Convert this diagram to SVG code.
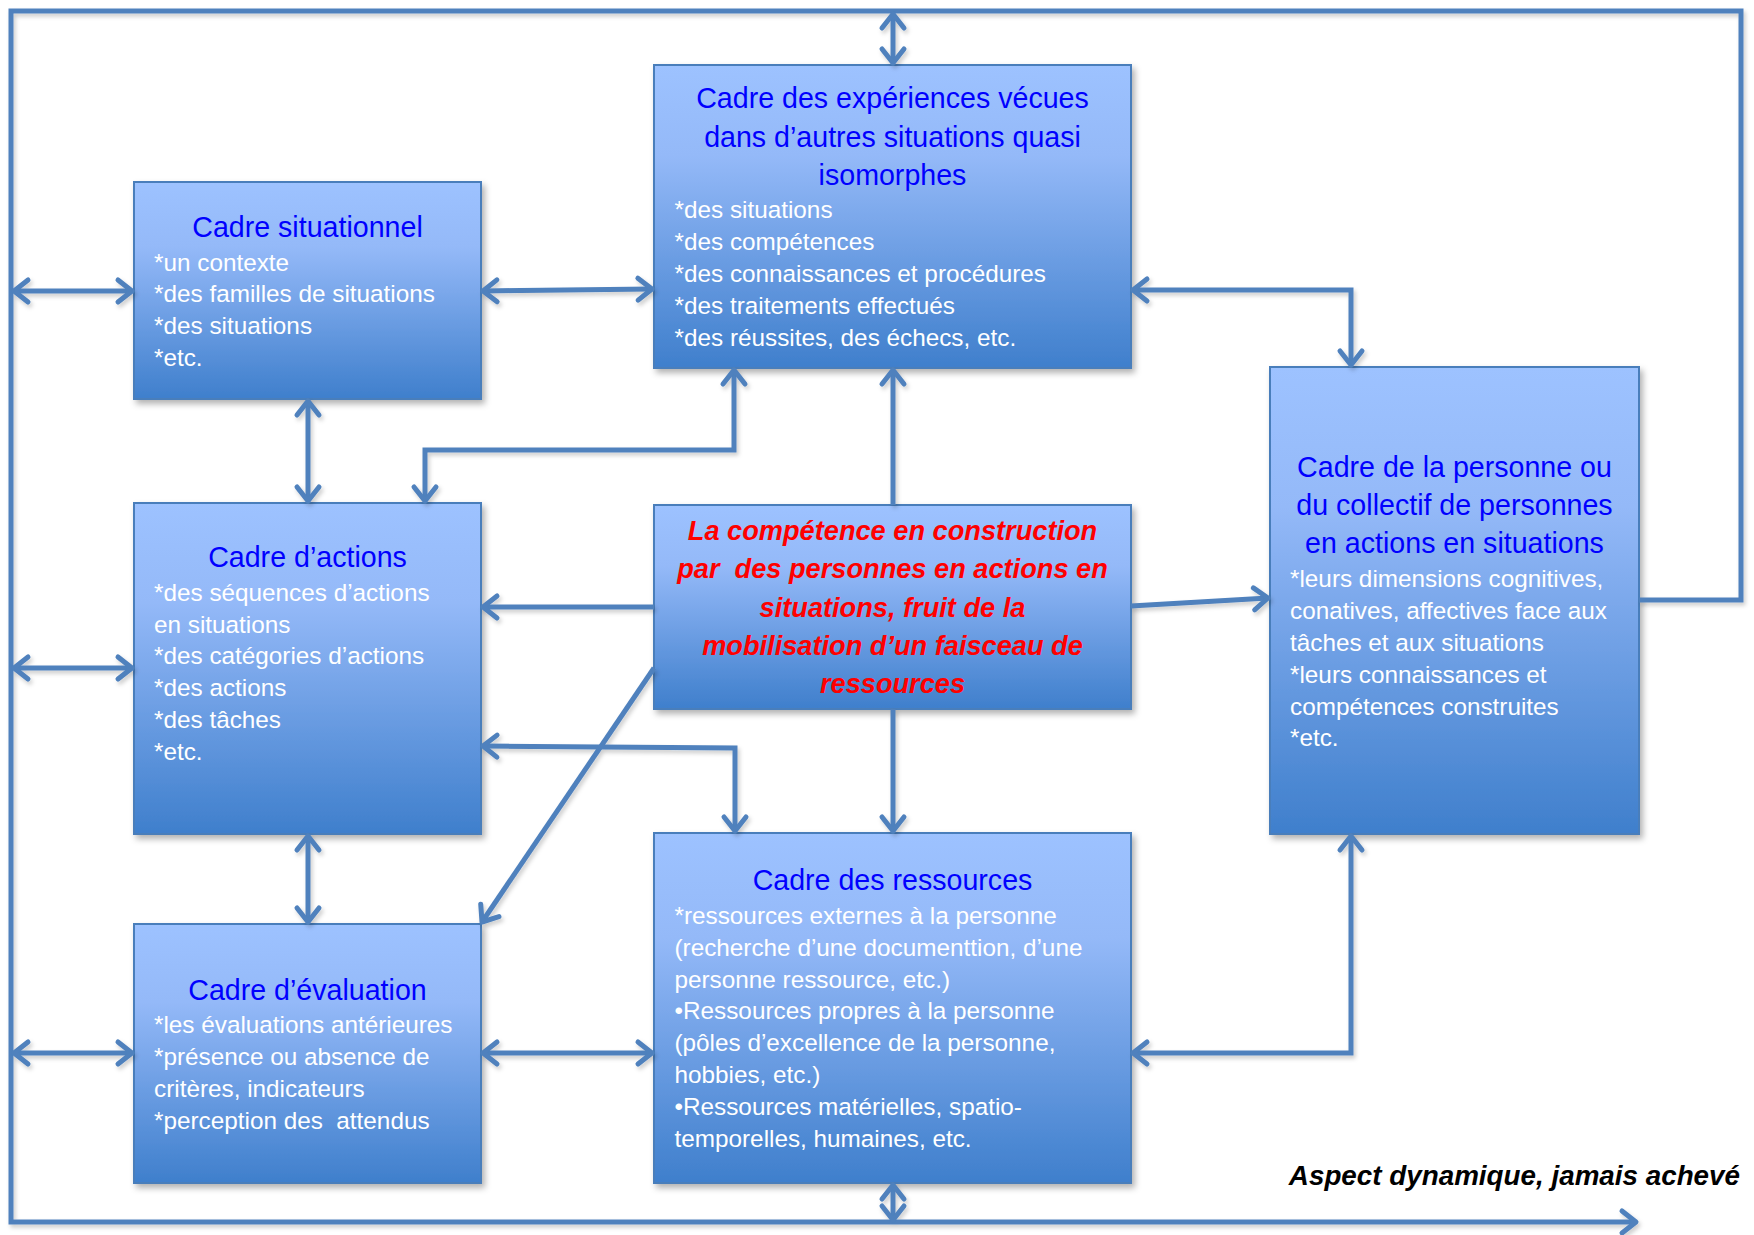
<svg xmlns="http://www.w3.org/2000/svg" width="1754" height="1235" viewBox="0 0 1754 1235">
<defs>
<linearGradient id="bg" x1="0" y1="0" x2="0" y2="1">
<stop offset="0" stop-color="#9DC2FF"/>
<stop offset="0.3" stop-color="#94B9F8"/>
<stop offset="1" stop-color="#3F7FCC"/>
</linearGradient>
<filter id="sh" x="-10%" y="-10%" width="125%" height="125%">
<feDropShadow dx="3" dy="4" stdDeviation="3" flood-color="#000" flood-opacity="0.3"/>
</filter>
<filter id="lsh" x="-5%" y="-5%" width="110%" height="110%">
<feDropShadow dx="2" dy="3" stdDeviation="2" flood-color="#000" flood-opacity="0.2"/>
</filter>
<marker id="ah" viewBox="-20 -15 25 30" refX="0" refY="0" markerWidth="25" markerHeight="30" markerUnits="userSpaceOnUse" orient="auto-start-reverse" overflow="visible">
<path d="M-14 -11 L0 0 L-14 11" fill="none" stroke="#4F81BD" stroke-width="5" stroke-linecap="round" stroke-linejoin="round"/>
</marker>
</defs>
<style>
.box{fill:url(#bg);stroke:#4A7EBB;stroke-width:2;filter:url(#sh)}
.t{font-family:"Liberation Sans",Arial,sans-serif;font-size:28.6px;fill:#0000FF;text-anchor:middle}
.b{font-family:"Liberation Sans",Arial,sans-serif;font-size:24.3px;fill:#FFFFFF}
.r{font-family:"Liberation Sans",Arial,sans-serif;font-size:27.2px;font-weight:bold;font-style:italic;fill:#FF0000;text-anchor:middle}
.c{fill:none;stroke:#4F81BD;stroke-width:5;stroke-linejoin:miter}
.d{marker-end:url(#ah)}
.dd{marker-start:url(#ah);marker-end:url(#ah)}
.note{font-family:"Liberation Sans",Arial,sans-serif;font-size:27.8px;font-weight:bold;font-style:italic;fill:#000;text-anchor:end}
</style>
<rect width="1754" height="1235" fill="#FFFFFF"/>

<g id="cadre-situationnel">
<rect class="box" x="134" y="182" width="347" height="217"/>
<text class="t" x="307.5" y="237">Cadre situationnel</text>
<text class="b" x="154" y="270.5">*un contexte</text>
<text class="b" x="154" y="302.3">*des familles de situations</text>
<text class="b" x="154" y="334.1">*des situations</text>
<text class="b" x="154" y="365.9">*etc.</text>
</g>

<g id="cadre-experiences">
<rect class="box" x="654" y="65" width="477" height="303"/>
<text class="t" x="892.5" y="108">Cadre des expériences vécues</text>
<text class="t" x="892.5" y="146.5">dans d’autres situations quasi</text>
<text class="t" x="892.5" y="185">isomorphes</text>
<text class="b" x="674.5" y="218.3">*des situations</text>
<text class="b" x="674.5" y="250.1">*des compétences</text>
<text class="b" x="674.5" y="281.9">*des connaissances et procédures</text>
<text class="b" x="674.5" y="313.7">*des traitements effectués</text>
<text class="b" x="674.5" y="345.5">*des réussites, des échecs, etc.</text>
</g>

<g id="cadre-actions">
<rect class="box" x="134" y="503" width="347" height="331"/>
<text class="t" x="307.5" y="566.5">Cadre d’actions</text>
<text class="b" x="154" y="600.7">*des séquences d’actions</text>
<text class="b" x="154" y="632.5">en situations</text>
<text class="b" x="154" y="664.3">*des catégories d’actions</text>
<text class="b" x="154" y="696.1">*des actions</text>
<text class="b" x="154" y="727.9">*des tâches</text>
<text class="b" x="154" y="759.7">*etc.</text>
</g>

<g id="competence">
<rect class="box" x="654" y="505" width="477" height="204"/>
<text class="r" x="892.5" y="540">La compétence en construction</text>
<text class="r" x="892.5" y="578.3" xml:space="preserve">par  des personnes en actions en</text>
<text class="r" x="892.5" y="616.6">situations, fruit de la</text>
<text class="r" x="892.5" y="654.9">mobilisation d’un faisceau de</text>
<text class="r" x="892.5" y="693.2">ressources</text>
</g>

<g id="cadre-personne">
<rect class="box" x="1270" y="367" width="369" height="467"/>
<text class="t" x="1454.5" y="476.7">Cadre de la personne ou</text>
<text class="t" x="1454.5" y="514.5">du collectif de personnes</text>
<text class="t" x="1454.5" y="552.7">en actions en situations</text>
<text class="b" x="1290" y="587.3">*leurs dimensions cognitives,</text>
<text class="b" x="1290" y="619.1">conatives, affectives face aux</text>
<text class="b" x="1290" y="650.9">tâches et aux situations</text>
<text class="b" x="1290" y="682.7">*leurs connaissances et</text>
<text class="b" x="1290" y="714.5">compétences construites</text>
<text class="b" x="1290" y="746.3">*etc.</text>
</g>

<g id="cadre-evaluation">
<rect class="box" x="134" y="924" width="347" height="259"/>
<text class="t" x="307.5" y="1000">Cadre d’évaluation</text>
<text class="b" x="154" y="1033.3">*les évaluations antérieures</text>
<text class="b" x="154" y="1065.1">*présence ou absence de</text>
<text class="b" x="154" y="1096.9">critères, indicateurs</text>
<text class="b" x="154" y="1128.7" xml:space="preserve">*perception des  attendus</text>
</g>

<g id="cadre-ressources">
<rect class="box" x="654" y="833" width="477" height="350"/>
<text class="t" x="892.5" y="890">Cadre des ressources</text>
<text class="b" x="674.5" y="924">*ressources externes à la personne</text>
<text class="b" x="674.5" y="955.8">(recherche d’une documenttion, d’une</text>
<text class="b" x="674.5" y="987.6">personne ressource, etc.)</text>
<text class="b" x="674.5" y="1019.4">•Ressources propres à la personne</text>
<text class="b" x="674.5" y="1051.2">(pôles d’excellence de la personne,</text>
<text class="b" x="674.5" y="1083">hobbies, etc.)</text>
<text class="b" x="674.5" y="1114.8">•Ressources matérielles, spatio-</text>
<text class="b" x="674.5" y="1146.6">temporelles, humaines, etc.</text>
</g>

<g id="connectors" filter="url(#lsh)">
<path class="c d" d="M1639 600 H1741 V11 H11 V1222 H1636"/>
<path class="c dd" d="M893 14 V63"/>
<path class="c dd" d="M893 1185 V1220"/>
<path class="c dd" d="M14 291 H132"/>
<path class="c dd" d="M14 668 H132"/>
<path class="c dd" d="M14 1053 H132"/>
<path class="c dd" d="M483 291 L652 289"/>
<path class="c dd" d="M308 401 V501"/>
<path class="c dd" d="M1133 290 H1351 V365"/>
<path class="c dd" d="M425 501 V450 H734 V370"/>
<path class="c d" d="M893 505 V370"/>
<path class="c d" d="M654 607 H483"/>
<path class="c d" d="M1131 606 L1268 598"/>
<path class="c d" d="M893 709 V831"/>
<path class="c d" d="M654 668 L482 922"/>
<path class="c dd" d="M483 746 L735 748 V831"/>
<path class="c dd" d="M308 836 V922"/>
<path class="c dd" d="M483 1053 H652"/>
<path class="c dd" d="M1133 1053 H1351 V836"/>
</g>

<text class="note" x="1740" y="1185">Aspect dynamique, jamais achevé</text>
</svg>
